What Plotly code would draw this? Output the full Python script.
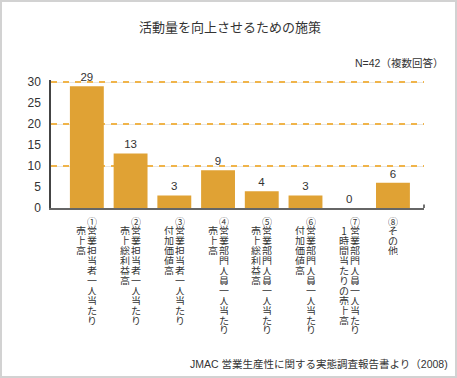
import plotly.graph_objects as go

# ---- data ----
title_text = "活動量を向上させるための施策"
note_text = "N=42（複数回答）"
source_text = "JMAC 営業生産性に関する実態調査報告書より（2008)"
label_line1 = ["①営業担当者一人当たり", "②営業担当者一人当たり", "③営業担当者一人当たり",
               "④営業部門人員一人当たり", "⑤営業部門人員一人当たり", "⑥営業部門人員一人当たり",
               "⑦営業部門人員一人当たり", "⑧その他"]
label_line2 = ["売上高", "売上総利益高", "付加価値高", "売上高", "売上総利益高", "付加価値高",
               "1時間当たりの売上高", ""]
values = [29, 13, 3, 9, 4, 3, 0, 6]
y_ticks = [0, 5, 10, 15, 20, 25, 30]
grid_vals = [10, 20, 30]

# ---- style ----
W, H = 457, 378
ML, MR, MT, MB = 51, 33, 80, 170
BAR = "#E0A234"
GRID = "#F0B44A"
TXT = "#333333"
FONT = "Liberation Sans, Arial, Noto Sans CJK JP, sans-serif"
JFONT = "Noto Sans CJK JP, sans-serif"
YR = [0, 30.5]

idx = list(range(len(values)))

fig = go.Figure()
fig.add_trace(go.Bar(
    x=idx, y=values, marker=dict(color=BAR, line=dict(width=0)),
    width=0.775, text=[str(v) for v in values], textposition="outside",
    textfont=dict(size=11.5, color=TXT, family=FONT), cliponaxis=False,
    hoverinfo="skip",
))
# empty traces to activate overlay grid axes
fig.add_trace(go.Scatter(x=[], y=[], yaxis="y2", showlegend=False))
fig.add_trace(go.Scatter(x=[], y=[], yaxis="y3", showlegend=False))

# vertical (tategaki) category labels, one upright character at a time
ann = []
pitch = 9.9
first = 13
for i, (l1, l2) in enumerate(zip(label_line1, label_line2)):
    cols = [(l1, 5.5 if l2 else 0, 0)]
    if l2:
        cols.append((l2, -5.5, 1))
    for text, dx, start in cols:
        for k, ch in enumerate(text):
            ann.append(dict(
                x=i, xref="x", y=0, yref="paper", text=ch, showarrow=False,
                xanchor="center", yanchor="middle", xshift=dx,
                yshift=-(first + (k + start) * pitch),
                width=10, height=9, borderpad=0,
                font=dict(size=10, color=TXT, family=JFONT),
            ))

pw = W - ML - MR
ph = H - MT - MB
ann.append(dict(x=0.5, xref="paper", y=(H - 26.7 - MB) / ph, yref="paper",
                text=title_text, showarrow=False, xanchor="center", yanchor="middle",
                xshift=(W / 2 - (ML + pw / 2)) + 1,
                font=dict(size=13, color=TXT, family=JFONT)))
ann.append(dict(x=(445 - ML) / pw, xref="paper", y=(H - 62.7 - MB) / ph, yref="paper",
                text=note_text, showarrow=False, xanchor="right", yanchor="middle",
                font=dict(size=10.5, color=TXT, family=FONT)))
ann.append(dict(x=(450 - ML) / pw, xref="paper", y=(H - 364 - MB) / ph, yref="paper",
                text=source_text, showarrow=False, xanchor="right", yanchor="middle",
                font=dict(size=10.5, color=TXT, family=FONT)))

shapes = [
    # figure frame
    dict(type="rect", xref="paper", yref="paper",
         x0=(1 - ML) / pw, x1=(W - 1 - ML) / pw,
         y0=(1 - MB) / ph, y1=(H - 1 - MB) / ph,
         line=dict(color="#D2D2D2", width=2), layer="below"),
    # small end tick of the x axis
    dict(type="line", xref="paper", yref="paper", x0=1, x1=1, y0=0, y1=3.5 / ph,
         line=dict(color="#444444", width=1.5)),
]

fig.update_layout(
    width=W, height=H, margin=dict(l=ML, r=MR, t=MT, b=MB),
    paper_bgcolor="white", plot_bgcolor="white", showlegend=False,
    bargap=0.225,
    xaxis=dict(range=[-0.82, 7.71], showgrid=False, zeroline=False,
               showticklabels=False, ticks="", showline=True,
               linecolor="#666666", linewidth=1.5, fixedrange=True),
    yaxis=dict(range=YR, tickvals=y_ticks, showgrid=False, zeroline=False,
               showline=True, linecolor="#444444", linewidth=1.5, ticks="",
               ticklabelstandoff=6,
               tickfont=dict(size=12, color=TXT, family=FONT)),
    yaxis2=dict(range=YR, overlaying="y", tickvals=grid_vals, showgrid=True,
                gridcolor="#E6E6E6", gridwidth=1, showticklabels=False,
                zeroline=False, showline=False, ticks=""),
    yaxis3=dict(range=YR, overlaying="y", tickvals=grid_vals, showgrid=True,
                gridcolor=GRID, gridwidth=1.5, griddash="6px,6px",
                showticklabels=False, zeroline=False, showline=False, ticks=""),
    annotations=ann, shapes=shapes,
)

fig.write_html("out.html", config={"displayModeBar": False},
               post_script="document.body.style.margin='0';document.body.style.overflow='hidden';")
